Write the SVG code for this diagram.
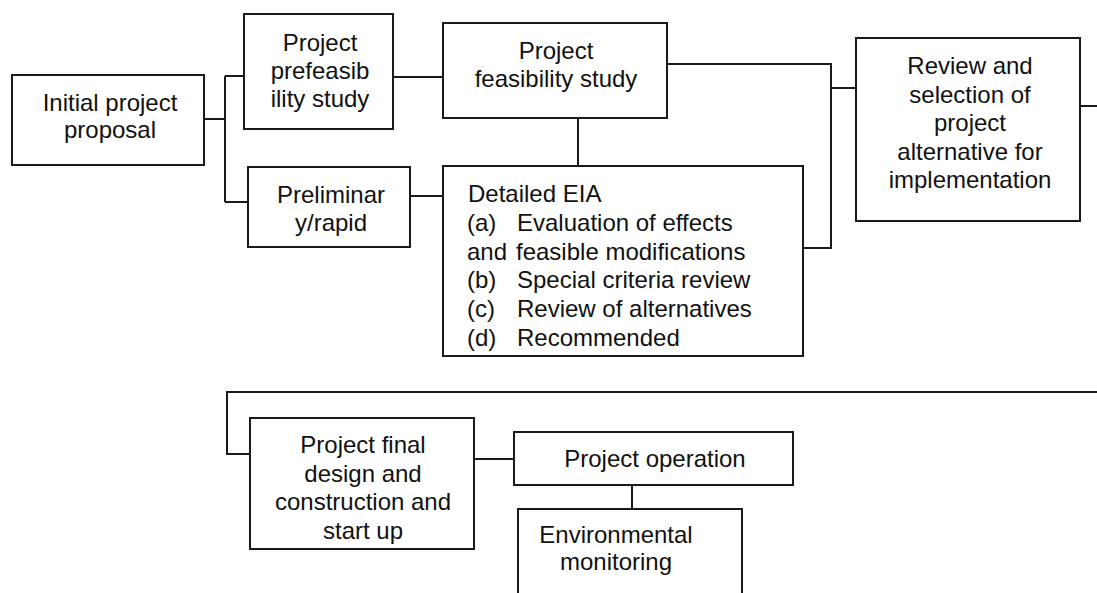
<svg xmlns="http://www.w3.org/2000/svg" width="1097" height="593" viewBox="0 0 1097 593">
<style>
.box{fill:#fff;stroke:#1a1a1a;stroke-width:2}
.ln{fill:none;stroke:#1a1a1a;stroke-width:2}
text{font-family:"Liberation Sans",Arial,sans-serif;font-size:24px;fill:#111}
.c{text-anchor:middle}
</style>
<rect width="1097" height="593" fill="#fff"/>
<g id="connectors">
<path class="ln" d="M204,119 H225 M225,76 V202 M225,76 H244 M225,202 H248"/>
<path class="ln" d="M393,77 H443"/>
<path class="ln" d="M410,196 H443"/>
<path class="ln" d="M578,118 V166"/>
<path class="ln" d="M667,64 H831 V248 H803 M831,88 H856"/>
<path class="ln" d="M1080,106 H1097"/>
<path class="ln" d="M1097,392 H227 V454 H250"/>
<path class="ln" d="M474,459 H514"/>
<path class="ln" d="M632,485 V509"/>
</g>
<g id="initial">
<rect class="box" x="12" y="75" width="192" height="90"/>
<text class="c" x="110" y="111">Initial project</text>
<text class="c" x="110" y="138">proposal</text>
</g>
<g id="prefeasibility">
<rect class="box" x="244" y="14" width="149" height="115"/>
<text class="c" x="320" y="51">Project</text>
<text class="c" x="320" y="79">prefeasib</text>
<text class="c" x="320" y="107">ility study</text>
</g>
<g id="preliminary">
<rect class="box" x="248" y="167" width="162" height="80"/>
<text class="c" x="331" y="203">Preliminar</text>
<text class="c" x="331" y="231">y/rapid</text>
</g>
<g id="feasibility">
<rect class="box" x="443" y="23" width="224" height="95"/>
<text class="c" x="556" y="59">Project</text>
<text class="c" x="556" y="87">feasibility study</text>
</g>
<g id="eia">
<rect class="box" x="443" y="166" width="360" height="190"/>
<text x="468" y="202">Detailed EIA</text>
<text x="467" y="230.5">(a)</text><text x="517" y="230.5">Evaluation of effects</text>
<text x="467" y="259.5">and</text><text x="516" y="259.5">feasible modifications</text>
<text x="467" y="288">(b)</text><text x="517" y="288">Special criteria review</text>
<text x="467" y="317">(c)</text><text x="517" y="317">Review of alternatives</text>
<text x="467" y="346">(d)</text><text x="517" y="346">Recommended</text>
</g>
<g id="review">
<rect class="box" x="856" y="38" width="224" height="183"/>
<text class="c" x="970" y="74">Review and</text>
<text class="c" x="970" y="102.5">selection of</text>
<text class="c" x="970" y="131">project</text>
<text class="c" x="970" y="159.5">alternative for</text>
<text class="c" x="970" y="188">implementation</text>
</g>
<g id="final-design">
<rect class="box" x="250" y="418" width="224" height="131"/>
<text class="c" x="363" y="453">Project final</text>
<text class="c" x="363" y="482">design and</text>
<text class="c" x="363" y="510">construction and</text>
<text class="c" x="363" y="539">start up</text>
</g>
<g id="operation">
<rect class="box" x="514" y="432" width="279" height="53"/>
<text class="c" x="655" y="467">Project operation</text>
</g>
<g id="monitoring">
<rect class="box" x="518" y="509" width="224" height="100"/>
<text class="c" x="616" y="543">Environmental</text>
<text class="c" x="616" y="570">monitoring</text>
</g>
</svg>
